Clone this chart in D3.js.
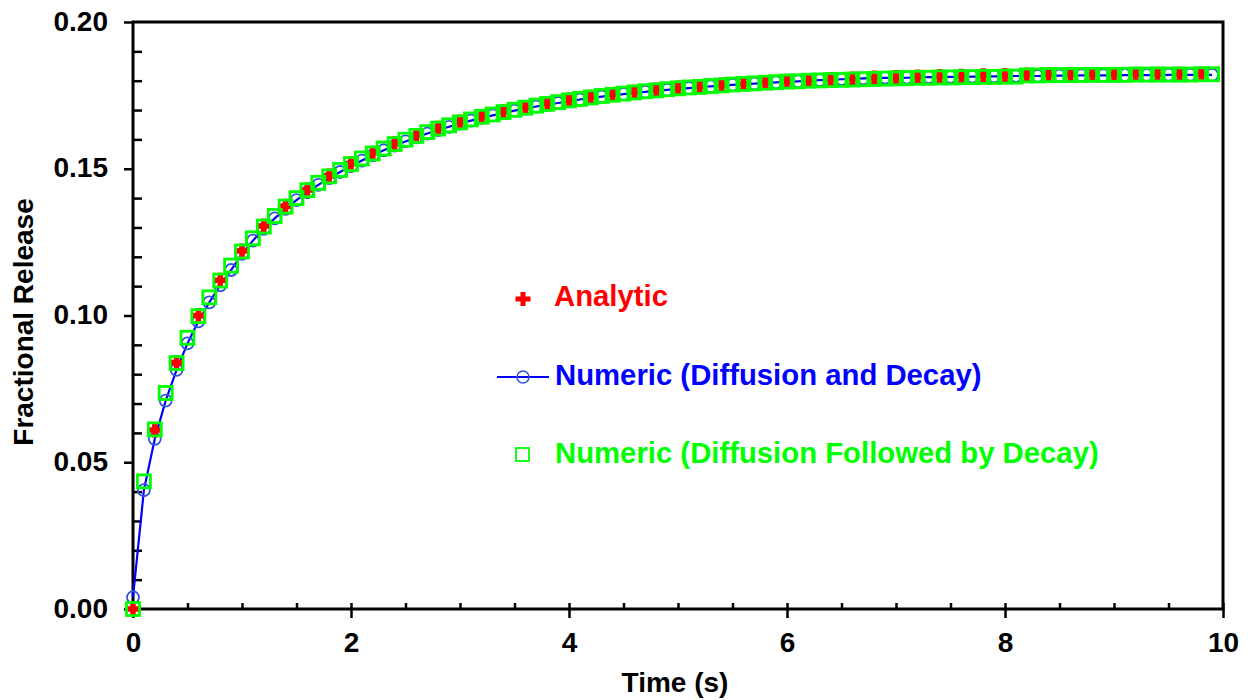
<!DOCTYPE html>
<html>
<head>
<meta charset="utf-8">
<script src="https://cdn.jsdelivr.net/npm/d3@7"></script>
<style>
  body { margin: 0; background: #fff; }
  svg { display: block; }
  text { font-family: "Liberation Sans", Arial, sans-serif; font-weight: bold; }
</style>
</head>
<body>
<svg id="chart" width="1248" height="700"></svg>
<script>
// Sample times (s)
const timeFine = [
  0.0,0.1,0.2,0.3,0.4,0.5,0.6,0.7,0.8,0.9,
  1.0,1.1,1.2,1.3,1.4,1.5,1.6,1.7,1.8,1.9,
  2.0,2.1,2.2,2.3,2.4,2.5,2.6,2.7,2.8,2.9,
  3.0,3.1,3.2,3.3,3.4,3.5,3.6,3.7,3.8,3.9,
  4.0,4.1,4.2,4.3,4.4,4.5,4.6,4.7,4.8,4.9,
  5.0,5.1,5.2,5.3,5.4,5.5,5.6,5.7,5.8,5.9,
  6.0,6.1,6.2,6.3,6.4,6.5,6.6,6.7,6.8,6.9,
  7.0,7.1,7.2,7.3,7.4,7.5,7.6,7.7,7.8,7.9,
  8.0,8.1,8.2,8.3,8.4,8.5,8.6,8.7,8.8,8.9,
  9.0,9.1,9.2,9.3,9.4,9.5,9.6,9.7,9.8,9.9
];
const timeAnalytic = [
  0.0,0.2,0.4,0.6,0.8,1.0,1.2,1.4,1.6,1.8,
  2.0,2.2,2.4,2.6,2.8,3.0,3.2,3.4,3.6,3.8,
  4.0,4.2,4.4,4.6,4.8,5.0,5.2,5.4,5.6,5.8,
  6.0,6.2,6.4,6.6,6.8,7.0,7.2,7.4,7.6,7.8,
  8.0,8.2,8.4,8.6,8.8,9.0,9.2,9.4,9.6,9.8
];

// Fractional release, analytic solution
const analytic = [
  0.0000,0.0610,0.0840,0.1000,0.1120,0.1220,0.1305,0.1372,0.1428,0.1475,
  0.1517,0.1553,0.1585,0.1613,0.1638,0.1659,0.1678,0.1694,0.1709,0.1722,
  0.1734,0.1744,0.1753,0.1761,0.1768,0.1775,0.1780,0.1785,0.1790,0.1794,
  0.1798,0.1801,0.1804,0.1806,0.1809,0.1811,0.1813,0.1814,0.1815,0.1817,
  0.1818,0.1819,0.1820,0.1820,0.1821,0.1821,0.1822,0.1822,0.1822,0.1823
];

// Numeric, diffusion and decay solved together
const numericCoupled = [
  0.0040,0.0405,0.0580,0.0710,0.0815,0.0905,0.0980,0.1045,0.1103,0.1155,
  0.1210,0.1255,0.1295,0.1331,0.1363,0.1393,0.1420,0.1445,0.1468,0.1489,
  0.1509,0.1528,0.1546,0.1563,0.1579,0.1593,0.1607,0.1620,0.1632,0.1643,
  0.1654,0.1664,0.1673,0.1682,0.1690,0.1698,0.1705,0.1712,0.1718,0.1724,
  0.1730,0.1736,0.1741,0.1746,0.1750,0.1754,0.1758,0.1762,0.1766,0.1769,
  0.1772,0.1775,0.1778,0.1781,0.1783,0.1786,0.1788,0.1790,0.1792,0.1794,
  0.1796,0.1798,0.1800,0.1802,0.1803,0.1805,0.1806,0.1808,0.1809,0.1810,
  0.1809,0.1810,0.1811,0.1812,0.1812,0.1813,0.1813,0.1814,0.1814,0.1815,
  0.1815,0.1816,0.1816,0.1816,0.1817,0.1817,0.1817,0.1818,0.1818,0.1818,
  0.1818,0.1819,0.1819,0.1819,0.1819,0.1820,0.1820,0.1820,0.1820,0.1820
];

// Numeric, diffusion followed by decay
const numericSequential = [
  0.0000,0.0435,0.0612,0.0736,0.0838,0.0924,0.0998,0.1062,0.1119,0.1170,
  0.1218,0.1263,0.1303,0.1339,0.1371,0.1400,0.1427,0.1452,0.1474,0.1496,
  0.1516,0.1535,0.1552,0.1569,0.1584,0.1599,0.1612,0.1625,0.1637,0.1648,
  0.1658,0.1668,0.1677,0.1685,0.1693,0.1701,0.1708,0.1715,0.1721,0.1727,
  0.1733,0.1738,0.1743,0.1748,0.1752,0.1756,0.1760,0.1764,0.1767,0.1771,
  0.1774,0.1777,0.1779,0.1782,0.1784,0.1787,0.1789,0.1791,0.1793,0.1795,
  0.1797,0.1798,0.1800,0.1801,0.1802,0.1803,0.1804,0.1805,0.1806,0.1807,
  0.1808,0.1809,0.1810,0.1810,0.1811,0.1811,0.1812,0.1812,0.1813,0.1813,
  0.1814,0.1814,0.1818,0.1818,0.1819,0.1819,0.1819,0.1820,0.1820,0.1820,
  0.1820,0.1820,0.1821,0.1821,0.1821,0.1821,0.1821,0.1821,0.1822,0.1822
];

// Axis ticks
const xTicks = [0, 2, 4, 6, 8, 10];
const xMinorTicks = [0.5,1,1.5,2.5,3,3.5,4.5,5,5.5,6.5,7,7.5,8.5,9,9.5];
const yTicks = [0.00, 0.05, 0.10, 0.15, 0.20];
const yMinorTicks = [0.01,0.02,0.03,0.04,0.06,0.07,0.08,0.09,0.11,0.12,0.13,0.14,0.16,0.17,0.18,0.19];

const seriesLabels = ["Analytic", "Numeric (Diffusion and Decay)", "Numeric (Diffusion Followed by Decay)"];
const colors = { red: "#ff0000", blue: "#0000ff", circle: "#2f55d8", green: "#00ff00" };

const svg = d3.select("#chart");
const plotLeft = 133, plotRight = 1223, plotTop = 22, plotBottom = 609;

const x = d3.scaleLinear().domain([0, 10]).range([plotLeft, plotRight]);
const y = d3.scaleLinear().domain([0, 0.2]).range([plotBottom, plotTop]);

// ---- axes ----
const gx = svg.append("g").attr("transform", `translate(0,${plotBottom})`);
gx.call(d3.axisBottom(x).tickValues(xTicks).tickSize(9).tickFormat(d3.format("d")));
gx.selectAll("text").attr("dy", null).attr("y", 43).attr("font-size", 28).attr("fill", "#000");

const gxIn = svg.append("g").attr("transform", `translate(0,${plotBottom})`);
gxIn.call(d3.axisBottom(x).tickValues(xTicks.concat(xMinorTicks)).tickSize(-6).tickFormat(""));

const gy = svg.append("g").attr("transform", `translate(${plotLeft},0)`);
gy.call(d3.axisLeft(y).tickValues(yTicks).tickSize(9).tickFormat(d3.format(".2f")));
gy.selectAll("text").attr("dy", null).attr("x", -25).attr("y", 8).attr("font-size", 28).attr("fill", "#000");

const gyIn = svg.append("g").attr("transform", `translate(${plotLeft},0)`);
gyIn.call(d3.axisLeft(y).tickValues(yMinorTicks).tickSize(-9).tickFormat(""));

svg.selectAll(".domain").remove();
svg.selectAll(".tick line").attr("stroke", "#000").attr("stroke-width", 2.5);

// plot frame
svg.append("path")
  .attr("d", `M${plotLeft},${plotTop}H${plotRight}V${plotBottom}H${plotLeft}Z`)
  .attr("fill", "none").attr("stroke", "#000").attr("stroke-width", 3)
  .attr("stroke-linejoin", "miter");

// axis titles
svg.append("text")
  .attr("x", (plotLeft + plotRight) / 2 - 3).attr("y", 692)
  .attr("text-anchor", "middle").attr("font-size", 28).attr("fill", "#000")
  .text("Time (s)");

svg.append("text")
  .attr("transform", "translate(33,322) rotate(-90)")
  .attr("text-anchor", "middle").attr("font-size", 28).attr("fill", "#000")
  .text("Fractional Release");

// ---- marks ----
const plusPath = (w, h, t) => {
  const a = w / 2, v = h / 2, b = t / 2;
  return `M${-b},${-v}H${b}V${-b}H${a}V${b}H${b}V${v}H${-b}V${b}H${-a}V${-b}H${-b}Z`;
};

const fine = timeFine.map((t, i) => ({ t, c: numericCoupled[i], s: numericSequential[i] }));
const ana = timeAnalytic.map((t, i) => ({ t, v: analytic[i] }));

// coupled numeric: line with open circles
svg.append("path")
  .datum(fine)
  .attr("fill", "none").attr("stroke", colors.blue).attr("stroke-width", 2.2)
  .attr("d", d3.line().x(d => x(d.t)).y(d => y(d.c)));

svg.append("g").selectAll("circle").data(fine).join("circle")
  .attr("cx", d => x(d.t)).attr("cy", d => y(d.c)).attr("r", 6)
  .attr("fill", "none").attr("stroke", colors.circle).attr("stroke-width", 1.8);

// analytic: bold plus markers
svg.append("g").selectAll("path").data(ana).join("path")
  .attr("transform", d => `translate(${x(d.t)},${y(d.v)})`)
  .attr("d", plusPath(12, 15, 5.5))
  .attr("fill", colors.red);

// sequential numeric: open squares
svg.append("g").selectAll("rect").data(fine).join("rect")
  .attr("x", d => x(d.t) - 6.5).attr("y", d => y(d.s) - 6.5)
  .attr("width", 13).attr("height", 13)
  .attr("fill", "none").attr("stroke", colors.green).attr("stroke-width", 2.8);

// ---- legend ----
const lg = svg.append("g");
lg.append("path").attr("transform", "translate(523,299)").attr("d", plusPath(15, 14, 5)).attr("fill", colors.red);
lg.append("text").attr("x", 554).attr("y", 306).attr("font-size", 29.3).attr("fill", colors.red).text(seriesLabels[0]);

lg.append("line").attr("x1", 497).attr("x2", 549).attr("y1", 377).attr("y2", 377)
  .attr("stroke", colors.blue).attr("stroke-width", 2.2);
lg.append("circle").attr("cx", 523).attr("cy", 377).attr("r", 6)
  .attr("fill", "none").attr("stroke", colors.circle).attr("stroke-width", 1.5);
lg.append("text").attr("x", 555).attr("y", 385).attr("font-size", 29.3).attr("fill", colors.blue).text(seriesLabels[1]);

lg.append("rect").attr("x", 516).attr("y", 448).attr("width", 13).attr("height", 13)
  .attr("fill", "none").attr("stroke", colors.green).attr("stroke-width", 1.8);
lg.append("text").attr("x", 555).attr("y", 463).attr("font-size", 29.3).attr("fill", colors.green).text(seriesLabels[2]);
</script>
</body>
</html>
